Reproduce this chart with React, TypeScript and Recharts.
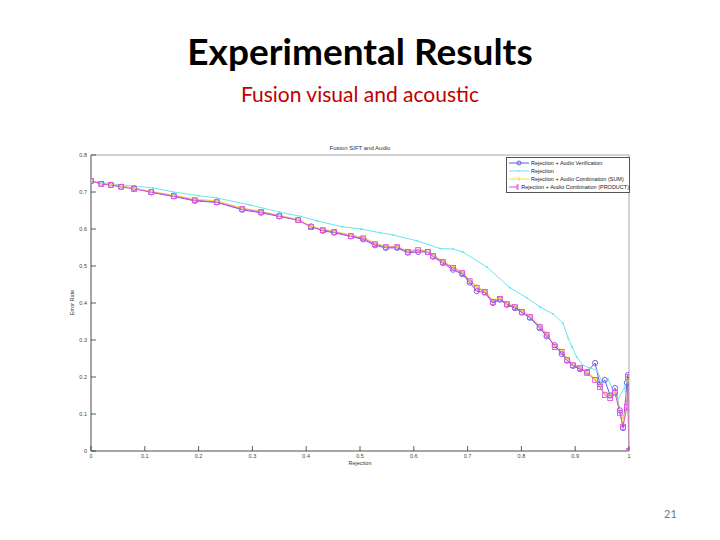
import { LineChart, Line, XAxis, YAxis } from "recharts";

// Rejection values shared by the three fused series
const fusedX = [
  0, 0.019, 0.037, 0.056, 0.08, 0.112, 0.154, 0.193, 0.234, 0.281, 0.316, 0.35, 0.385, 0.409,
  0.431, 0.452, 0.483, 0.506, 0.528, 0.548, 0.569, 0.589, 0.608, 0.626, 0.636, 0.654, 0.673,
  0.69, 0.704, 0.717, 0.732, 0.747, 0.76, 0.773, 0.788, 0.801, 0.816, 0.834, 0.847, 0.862,
  0.875, 0.885, 0.896, 0.909, 0.922, 0.937, 0.946, 0.955, 0.965, 0.974, 0.983, 0.989, 0.996,
  0.998, 1,
];

const verificationY = [
  0.73, 0.722, 0.719, 0.714, 0.711, 0.699, 0.688, 0.676, 0.672, 0.652, 0.644, 0.634, 0.624,
  0.607, 0.595, 0.59, 0.58, 0.572, 0.556, 0.549, 0.549, 0.536, 0.538, 0.538, 0.525, 0.508,
  0.49, 0.478, 0.455, 0.432, 0.428, 0.4, 0.409, 0.395, 0.386, 0.374, 0.36, 0.332, 0.31, 0.286,
  0.262, 0.244, 0.23, 0.221, 0.214, 0.238, 0.18, 0.192, 0.15, 0.17, 0.11, 0.062, 0.184, 0.205, 0,
];

const sumY = [
  0.73, 0.723, 0.72, 0.716, 0.71, 0.702, 0.691, 0.681, 0.676, 0.657, 0.648, 0.637, 0.626,
  0.608, 0.6, 0.594, 0.584, 0.578, 0.562, 0.554, 0.552, 0.541, 0.545, 0.54, 0.53, 0.514,
  0.498, 0.484, 0.462, 0.445, 0.433, 0.408, 0.413, 0.4, 0.392, 0.38, 0.366, 0.34, 0.318, 0.286,
  0.272, 0.25, 0.236, 0.226, 0.214, 0.196, 0.178, 0.156, 0.15, 0.16, 0.112, 0.082, 0.125, 0.19, 0,
];

const productY = [
  0.73, 0.722, 0.719, 0.714, 0.708, 0.7, 0.689, 0.678, 0.673, 0.654, 0.646, 0.635, 0.624,
  0.605, 0.597, 0.592, 0.581, 0.575, 0.559, 0.551, 0.551, 0.538, 0.543, 0.538, 0.527, 0.511,
  0.495, 0.481, 0.459, 0.441, 0.43, 0.403, 0.411, 0.397, 0.389, 0.376, 0.362, 0.335, 0.314,
  0.281, 0.268, 0.246, 0.232, 0.224, 0.211, 0.192, 0.173, 0.151, 0.143, 0.157, 0.103, 0.065,
  0.119, 0.2, 0,
];

// Rejection-only curve has its own sampling
const rejectionX = [
  0, 0.037, 0.08, 0.115, 0.153, 0.2, 0.234, 0.295, 0.35, 0.39, 0.42, 0.467, 0.502, 0.537,
  0.561, 0.606, 0.649, 0.673, 0.691, 0.736, 0.779, 0.81, 0.835, 0.859, 0.877, 0.887, 0.894,
  0.903, 0.914, 0.927, 0.94, 0.951, 0.961, 0.97, 0.979, 0.992, 0.998, 1,
];
const rejectionY = [
  0.73, 0.722, 0.716, 0.711, 0.7, 0.69, 0.684, 0.665, 0.646, 0.634, 0.622, 0.606, 0.6, 0.59,
  0.584, 0.568, 0.547, 0.546, 0.538, 0.497, 0.441, 0.414, 0.389, 0.37, 0.346, 0.305, 0.281,
  0.254, 0.232, 0.224, 0.219, 0.184, 0.195, 0.165, 0.138, 0.173, 0.1, 0,
];

const xTicks = [0, 0.1, 0.2, 0.3, 0.4, 0.5, 0.6, 0.7, 0.8, 0.9, 1];
const yTicks = [0, 0.1, 0.2, 0.3, 0.4, 0.5, 0.6, 0.7, 0.8];

const seriesNames = [
  "Rejection + Audio Verification",
  "Rejection",
  "Rejection + Audio Combination (SUM)",
  "Rejection + Audio Combination (PRODUCT)",
];

const COLORS = ["#6458e6", "#6ae6ee", "#f2e03c", "#e24ee0"];

const fusedRows = fusedX.map((x, i) => ({
  x,
  verification: verificationY[i],
  sum: sumY[i],
  product: productY[i],
}));
const rejectionRows = rejectionX.map((x, i) => ({ x, rejection: rejectionY[i] }));

const fmt = (v: number) => (v === 0 ? "0" : v === 1 ? "1" : v.toFixed(1));

const TICK_INK = "#333";
const SMALL = "Liberation Sans";

const BottomTick = (props: any) => {
  const { x, y, payload } = props;
  return (
    <g>
      <line x1={x} x2={x} y1={y} y2={y - 5} stroke={TICK_INK} strokeWidth={0.8} />
      <text x={x} y={y + 7} textAnchor="middle" fontSize={5.5} fill="#444" fontFamily={SMALL}>
        {fmt(payload.value)}
      </text>
    </g>
  );
};

const TopTick = (props: any) => {
  const { x, y } = props;
  return <line x1={x} x2={x} y1={y} y2={y + 5} stroke={TICK_INK} strokeWidth={0.8} />;
};

const LeftTick = (props: any) => {
  const { x, y, payload } = props;
  return (
    <g>
      <line x1={x} x2={x + 5} y1={y} y2={y} stroke={TICK_INK} strokeWidth={0.8} />
      <text x={x - 4} y={y + 2} textAnchor="end" fontSize={5.5} fill="#444" fontFamily={SMALL}>
        {fmt(payload.value)}
      </text>
    </g>
  );
};

const RightTick = (props: any) => {
  const { x, y } = props;
  return <line x1={x} x2={x - 5} y1={y} y2={y} stroke={TICK_INK} strokeWidth={0.8} />;
};

const circleDot = (color: string) => (p: any) => (
  <circle key={`c-${p.index}`} cx={p.cx} cy={p.cy} r={2.6} fill="none" stroke={color} strokeWidth={0.9} />
);
const squareDot = (color: string) => (p: any) => (
  <rect key={`s-${p.index}`} x={p.cx - 2.4} y={p.cy - 2.4} width={4.8} height={4.8} fill="none" stroke={color} strokeWidth={0.9} />
);
const pointDot = (color: string) => (p: any) => (
  <circle key={`p-${p.index}`} cx={p.cx} cy={p.cy} r={1} fill={color} />
);
const plusDot = (color: string) => (p: any) => (
  <g key={`x-${p.index}`}>
    <line x1={p.cx - 2} x2={p.cx + 2} y1={p.cy} y2={p.cy} stroke={color} strokeWidth={0.8} />
    <line x1={p.cx} x2={p.cx} y1={p.cy - 2} y2={p.cy + 2} stroke={color} strokeWidth={0.8} />
  </g>
);

const LegendBox = () => (
  <div
    style={{
      position: "absolute",
      left: 506,
      top: 157,
      width: 120,
      border: "1px solid #555",
      background: "#fff",
      padding: "1px 0 1px 2px",
      fontFamily: SMALL,
      fontSize: 5.5,
      color: "#222",
      lineHeight: "8px",
      whiteSpace: "nowrap",
    }}
  >
    {seriesNames.map((name, i) => (
      <div key={name} style={{ display: "flex", alignItems: "center" }}>
        <svg width={20} height={8} style={{ marginRight: 2 }}>
          <line x1={0} x2={20} y1={4} y2={4} stroke={COLORS[i]} strokeWidth={1} />
          {i === 0 && <circle cx={10} cy={4} r={2} fill="none" stroke={COLORS[i]} />}
          {i === 1 && <circle cx={10} cy={4} r={0.8} fill={COLORS[i]} />}
          {i === 2 && <line x1={10} x2={10} y1={2} y2={6} stroke={COLORS[i]} />}
          {i === 3 && <rect x={8} y={2} width={4} height={4} fill="none" stroke={COLORS[i]} />}
        </svg>
        <span>{name}</span>
      </div>
    ))}
  </div>
);

export default function App() {
  return (
    <div
      style={{
        position: "absolute",
        left: 0,
        top: 0,
        width: 720,
        height: 540,
        background: "#fff",
        overflow: "hidden",
      }}
    >
      <div
        style={{
          position: "absolute",
          top: 28,
          width: 720,
          textAlign: "center",
          fontFamily: "Lato",
          fontWeight: 700,
          fontSize: 37,
          color: "#000",
        }}
      >
        Experimental Results
      </div>
      <div
        style={{
          position: "absolute",
          top: 81,
          width: 720,
          textAlign: "center",
          fontFamily: "Lato",
          fontSize: 21,
          color: "#c00000",
        }}
      >
        Fusion visual and acoustic
      </div>
      <div
        style={{
          position: "absolute",
          top: 145,
          width: 720,
          textAlign: "center",
          fontFamily: SMALL,
          fontSize: 6,
          color: "#333",
        }}
      >
        Fusion SIFT and Audio
      </div>
      <div
        style={{
          position: "absolute",
          top: 460,
          width: 720,
          textAlign: "center",
          fontFamily: SMALL,
          fontSize: 5.5,
          lineHeight: "7px",
          color: "#333",
        }}
      >
        Rejection
      </div>
      <div
        style={{
          position: "absolute",
          left: 47,
          top: 299,
          width: 50,
          textAlign: "center",
          fontFamily: SMALL,
          fontSize: 5.5,
          lineHeight: "7px",
          color: "#333",
          transform: "rotate(-90deg)",
        }}
      >
        Error Rate
      </div>
      <div
        style={{
          position: "absolute",
          left: 664,
          top: 507,
          fontFamily: "Lato",
          fontSize: 11,
          color: "#777",
        }}
      >
        21
      </div>
      <div style={{ position: "absolute", left: 0, top: 0 }}>
        <LineChart width={720} height={540} margin={{ top: 154, right: 90, bottom: 88, left: 90 }}>
          <XAxis
            dataKey="x"
            type="number"
            domain={[0, 1]}
            ticks={xTicks}
            height={1}
            tickSize={0}
            tickMargin={0}
            tick={<BottomTick />}
            stroke="#a6a6a6"
            strokeWidth={2}
            allowDataOverflow
          />
          <XAxis
            xAxisId="top"
            orientation="top"
            dataKey="x"
            type="number"
            domain={[0, 1]}
            ticks={xTicks}
            height={1}
            tickSize={0}
            tickMargin={0}
            tick={<TopTick />}
            stroke="#a6a6a6"
            strokeWidth={1}
          />
          <YAxis
            type="number"
            domain={[0, 0.8]}
            ticks={yTicks}
            width={1}
            tickSize={0}
            tickMargin={0}
            tick={<LeftTick />}
            stroke="#a6a6a6"
            strokeWidth={2}
            allowDataOverflow
          />
          <YAxis
            yAxisId="right"
            orientation="right"
            type="number"
            domain={[0, 0.8]}
            ticks={yTicks}
            width={1}
            tickSize={0}
            tickMargin={0}
            tick={<RightTick />}
            stroke="#a6a6a6"
            strokeWidth={1}
          />
          <Line
            data={fusedRows}
            dataKey="verification"
            name={seriesNames[0]}
            stroke={COLORS[0]}
            strokeWidth={1}
            dot={circleDot(COLORS[0])}
            isAnimationActive={false}
          />
          <Line
            data={rejectionRows}
            dataKey="rejection"
            name={seriesNames[1]}
            stroke={COLORS[1]}
            strokeWidth={1}
            dot={pointDot(COLORS[1])}
            isAnimationActive={false}
          />
          <Line
            data={fusedRows}
            dataKey="sum"
            name={seriesNames[2]}
            stroke={COLORS[2]}
            strokeWidth={1}
            dot={plusDot(COLORS[2])}
            isAnimationActive={false}
          />
          <Line
            data={fusedRows}
            dataKey="product"
            name={seriesNames[3]}
            stroke={COLORS[3]}
            strokeWidth={1}
            dot={squareDot(COLORS[3])}
            isAnimationActive={false}
          />
        </LineChart>
      </div>
      <LegendBox />
    </div>
  );
}
